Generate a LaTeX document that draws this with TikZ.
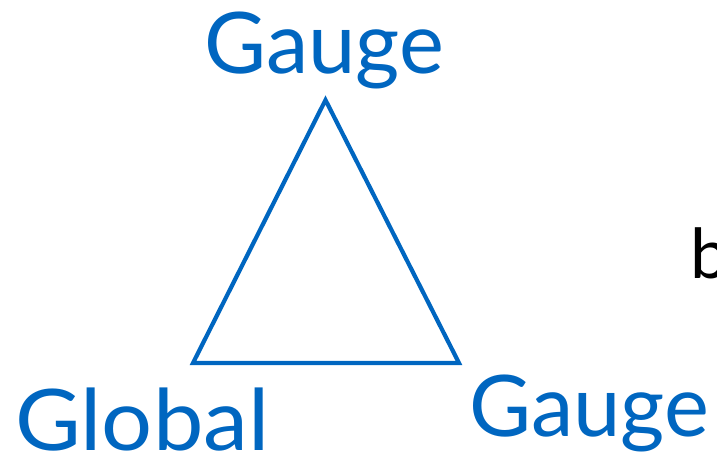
\documentclass[tikz,border=0pt]{standalone}
\usepackage{fontspec}
\setmainfont{Lato}
\definecolor{gaugeblue}{RGB}{0,102,192}

\begin{document}
\begin{tikzpicture}
[
	x=1pt,y=-1pt,
	edge/.style={draw=gaugeblue,line width=4.2pt,line join=miter},
	label/.style={text=gaugeblue,inner sep=0pt,font=\fontsize{85}{96}\selectfont}
]

	% frame
	\useasboundingbox (0,0) rectangle (717,460);
	\clip (0,0) rectangle (717,460);

	% triangle
	\coordinate (apex) at (325.5,100);
	\coordinate (lower left) at (193,363);
	\coordinate (lower right) at (459,363);
	\draw[edge] (apex) -- (lower left) -- (lower right) -- cycle;

	% labels
	\node[label,anchor=base] (gauge top) at (324,74) {Gauge};
	\node[label,anchor=base west,xscale=1.06] (global) at (15,450) {Global};
	\node[label,anchor=base west] (gauge right) at (469,436) {Gauge};
	\node[inner sep=0pt,anchor=base west,font=\fontsize{69}{80}\selectfont] (partial) at (690,278) {b};

\end{tikzpicture}
\end{document}
